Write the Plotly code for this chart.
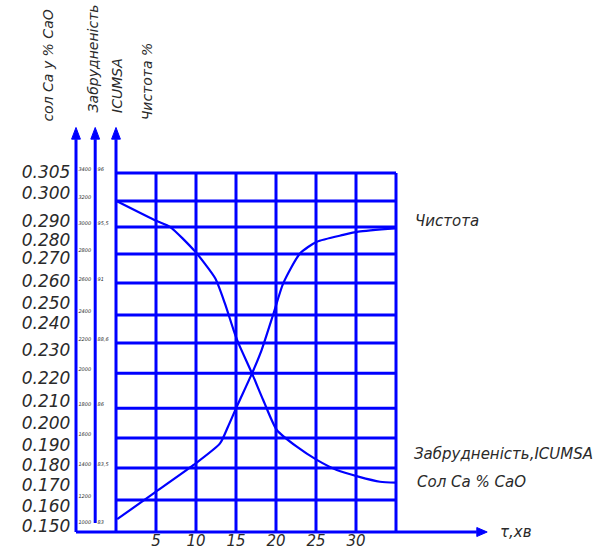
import plotly.graph_objects as go

# ---- data -------------------------------------------------------------
# time axis (minutes) and grid columns
time_ticks = [5, 10, 15, 20, 25, 30]
grid_cols = [0, 5, 10, 15, 20, 25, 30, 35]
# horizontal grid rows (in chart row units, measured from the time axis)
grid_rows = [1.07, 2.14, 3.14, 4.14, 5.31, 6.32, 7.25, 8.32, 9.29, 10.19, 11.06, 12.0]

# purity curve ("Чистота")
purity_t = [0, 5.1, 6.75, 9.9, 12.4, 13.6, 14.7, 15.3, 17.0, 18.4, 20.1, 22.6, 25.1, 27.6, 30.3, 33.0, 35.0]
purity_v = [11.07, 10.39, 10.20, 9.37, 8.48, 7.65, 6.75, 6.31, 5.30, 4.41, 3.41, 2.85, 2.41, 2.07, 1.85, 1.68, 1.65]

# colour / calcium salts curve ("Забрудненість, ICUMSA" / "Сол Ca % CaO")
colour_t = [0.15, 4.7, 9.7, 13.0, 14.0, 15.1, 17.0, 18.2, 19.7, 20.9, 23.0, 25.1, 28.4, 30.3, 34.9]
colour_v = [0.43, 1.29, 2.24, 2.96, 3.52, 4.19, 5.30, 6.08, 7.31, 8.31, 9.31, 9.70, 9.93, 10.04, 10.15]

# calcium salt scale (% CaO)
salt_labels = ["0.305", "0.300", "0.290", "0.280", "0.270", "0.260", "0.250", "0.240", "0.230",
               "0.220", "0.210", "0.200", "0.190", "0.180", "0.170", "0.160", "0.150"]
salt_levels = [11.99, 11.26, 10.33, 9.70, 9.09, 8.32, 7.59, 6.92, 6.02,
               5.08, 4.31, 3.58, 2.84, 2.17, 1.50, 0.80, 0.13]

# ICUMSA scale (small labels along the colour axis)
icumsa_labels = ["3400", "3200", "3000", "2800", "2600", "2400", "2200",
                 "2000", "1800", "1600", "1400", "1200", "1000"]
icumsa_levels = [12.0, 11.06, 10.19, 9.29, 8.32, 7.25, 6.32, 5.31, 4.14, 3.14, 2.14, 1.07, 0.2]

# purity scale (small labels along the purity axis)
purity_labels = ["96", "95,5", "91", "88,6", "86", "83,5", "83"]
purity_levels = [12.0, 10.19, 8.32, 6.32, 4.14, 2.14, 0.2]

# ---- style ------------------------------------------------------------
BLUE = "#0000ff"
INK = "#2a2a2a"
FONT = "DejaVu Sans"
X_SALT, X_ICUMSA, X_PUR = -5.0, -2.6, 0.0   # vertical axis positions
AX_TOP, ARROW_TIP = 13.13, 13.52            # vertical arrow base / tip
T_END, T_TIP = 45.1, 46.4                   # time axis arrow base / tip
ROW_TOP, COL_END = grid_rows[-1], grid_cols[-1]

fig = go.Figure()


def seg(xs, ys, width):
    fig.add_trace(go.Scatter(x=xs, y=ys, mode="lines", line=dict(color=BLUE, width=width),
                             hoverinfo="skip", showlegend=False))


def tri(xs, ys):
    fig.add_trace(go.Scatter(x=xs, y=ys, mode="lines", fill="toself", fillcolor=BLUE,
                             line=dict(color=BLUE, width=1), hoverinfo="skip", showlegend=False))


# grid
for c in grid_cols[1:]:
    seg([c, c], [0, ROW_TOP], 3)
for r in grid_rows:
    seg([0, COL_END], [r, r], 3)

# vertical axes with arrows
seg([X_SALT, X_SALT], [0, AX_TOP], 3)
seg([X_ICUMSA, X_ICUMSA], [0.3, AX_TOP], 3)
seg([X_PUR, X_PUR], [0, AX_TOP], 3)
for xa in (X_SALT, X_ICUMSA, X_PUR):
    tri([xa - 0.55, xa + 0.55, xa, xa - 0.55], [AX_TOP, AX_TOP, ARROW_TIP, AX_TOP])

# time axis with arrow
seg([X_SALT, T_END], [0, 0], 3)
tri([T_END, T_END, T_TIP, T_END], [-0.15, 0.15, 0, -0.15])

# curves
fig.add_trace(go.Scatter(x=purity_t, y=purity_v, mode="lines",
                         line=dict(color=BLUE, width=2.2, shape="spline", smoothing=0.6),
                         hoverinfo="skip", showlegend=False))
fig.add_trace(go.Scatter(x=colour_t, y=colour_v, mode="lines",
                         line=dict(color=BLUE, width=2.2, shape="spline", smoothing=0.6),
                         hoverinfo="skip", showlegend=False))

# scale labels
fig.add_trace(go.Scatter(x=[-5.7] * len(salt_levels), y=salt_levels, mode="text",
                         text=salt_labels, textposition="middle left",
                         textfont=dict(family=FONT, size=17, color=INK, style="italic"),
                         hoverinfo="skip", showlegend=False))
fig.add_trace(go.Scatter(x=[-4.7] * len(icumsa_levels), y=[v + 0.1 for v in icumsa_levels], mode="text",
                         text=icumsa_labels, textposition="middle right",
                         textfont=dict(family=FONT, size=5, color=INK, style="italic"),
                         hoverinfo="skip", showlegend=False))
fig.add_trace(go.Scatter(x=[-2.3] * len(purity_levels), y=[v + 0.1 for v in purity_levels], mode="text",
                         text=purity_labels, textposition="middle right",
                         textfont=dict(family=FONT, size=5, color=INK, style="italic"),
                         hoverinfo="skip", showlegend=False))
fig.add_trace(go.Scatter(x=time_ticks, y=[-0.35] * len(time_ticks), mode="text",
                         text=[str(t) for t in time_ticks], textposition="middle center",
                         textfont=dict(family=FONT, size=15, color=INK, style="italic"),
                         hoverinfo="skip", showlegend=False))

tfont = dict(family=FONT, size=15, color=INK, style="italic")
vfont = dict(family=FONT, size=14, color=INK, style="italic")
ann = [
    dict(x=47.8, y=0.0, text="τ,хв", xanchor="left", yanchor="middle", font=tfont),
    dict(x=37.1, y=10.4, text="Чистота", xanchor="left", yanchor="middle", font=tfont),
    dict(x=37.0, y=2.6, text="Забрудненість,ICUMSA", xanchor="left", yanchor="middle", font=tfont),
    dict(x=37.4, y=1.67, text="Сол Ca % CaO", xanchor="left", yanchor="middle", font=tfont),
    dict(x=-8.5, y=13.65, text="сол Ca у % CaO", textangle=-90, xanchor="center", yanchor="bottom", font=vfont),
    dict(x=-2.9, y=13.95, text="Забрудненість", textangle=-90, xanchor="center", yanchor="bottom", font=vfont),
    dict(x=0.1, y=13.95, text="ICUMSA", textangle=-90, xanchor="center", yanchor="bottom", font=vfont),
    dict(x=3.9, y=13.7, text="Чистота %", textangle=-90, xanchor="center", yanchor="bottom", font=vfont),
]
for a in ann:
    a.update(xref="x", yref="y", showarrow=False)

fig.update_layout(
    width=612, height=552,
    margin=dict(l=0, r=0, t=0, b=0),
    paper_bgcolor="white", plot_bgcolor="white",
    xaxis=dict(range=[-14.5, 62], visible=False),
    yaxis=dict(range=[-0.668, 17.78], visible=False),
    annotations=ann,
)

fig.write_html("out.html")
